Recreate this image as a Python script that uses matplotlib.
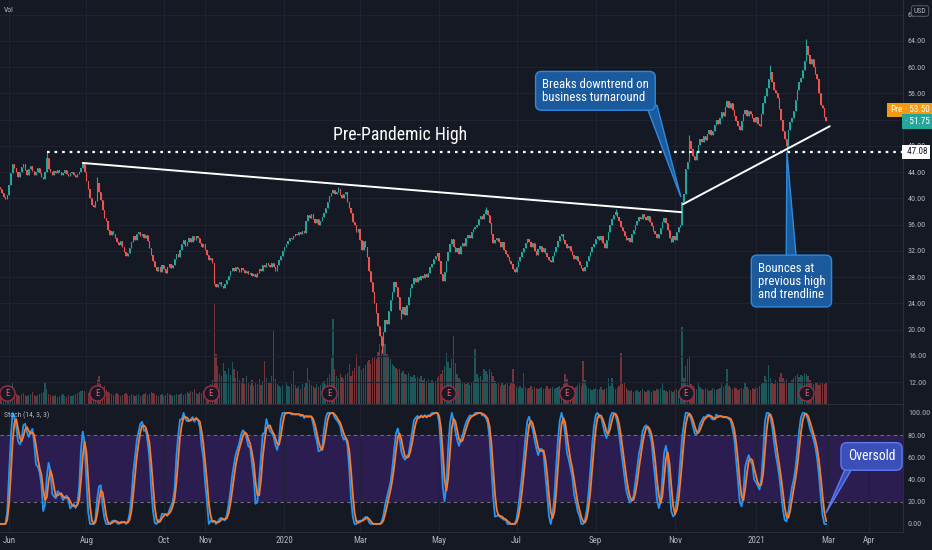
import numpy as np
import pandas as pd
import matplotlib
matplotlib.use("Agg")
import matplotlib.pyplot as plt
from matplotlib import font_manager
from matplotlib.patches import Polygon
from matplotlib.transforms import blended_transform_factory

# daily closes (first bar = 2019-05-27, business days)
closes = [
    41.5, 40.8, 40.2, 39.9, 40.5, 42.0, 43.8, 45.3,
    44.6, 44.0, 43.2, 44.1, 44.8, 45.2, 44.3, 43.6, 44.5, 45.0, 44.2, 43.5, 44.0, 44.7, 43.8, 43.3, 42.9, 44.0,
    46.2,
    44.5, 44.0, 43.6, 44.2, 43.8, 44.4, 44.0, 43.5, 43.9, 44.3, 43.7, 43.4, 43.8, 44.1, 43.6, 43.3, 43.7, 44.0, 44.6,
    45.2,
    44.0, 42.6, 41.5, 40.1, 39.0, 38.7, 39.6, 42.4, 41.0, 39.8,
    38.2, 37.0, 36.5, 35.2, 34.4, 35.0, 34.6,
    34.0, 33.3, 32.9, 33.5, 32.6, 31.8, 31.2, 31.6,
    32.5, 33.4, 34.2, 33.6, 34.5, 34.9, 34.3,
    34.6, 34.0, 34.4, 33.5, 32.4, 31.3, 30.5, 29.6,
    29.0, 29.6, 28.8, 29.9, 29.3, 28.7, 29.5, 30.0,
    29.4, 29.9, 30.8, 31.5, 31.0, 32.2,
    33.0, 33.6, 32.8, 33.3, 34.0, 33.4, 34.2, 33.6, 34.3, 34.0, 33.2,
    32.6, 33.0, 32.2, 31.4, 30.6, 30.9, 30.2,
    27.0, 26.5, 26.9, 27.2, 26.7, 26.4, 26.9,
    27.5, 28.2, 28.9, 29.4, 29.0, 29.6,
    29.2, 28.8, 29.4, 29.1, 28.6, 28.9, 28.4, 28.7, 28.2, 28.5, 28.0,
    28.6, 29.3, 29.0, 29.8, 29.5, 30.2, 29.8, 29.5, 30.1, 29.6, 29.0,
    29.8, 30.6, 31.2, 32.0, 32.6, 33.1, 33.5, 34.0, 33.8, 34.3, 34.6,
    34.4, 34.9, 34.6, 35.1, 34.7,
    36.6, 37.5, 37.0, 37.6,
    36.8, 36.2, 36.9, 36.0, 36.5, 37.2, 37.8, 38.6, 39.5, 40.3,
    40.8, 41.3, 40.6, 41.0, 41.4, 40.5, 40.0, 40.7, 40.9,
    39.5, 38.6, 37.8, 36.4, 36.0,
    34.8, 35.4, 33.6, 32.2, 33.5, 32.6,
    31.0, 29.0, 27.2, 25.8, 24.0, 22.5, 20.5, 19.0, 17.5,
    19.6, 21.5, 20.8, 22.8, 24.5,
    25.8, 27.3, 26.5, 25.0, 23.0,
    22.4, 23.5, 22.2,
    23.8, 25.0, 26.3, 27.0, 27.8, 27.3, 28.0, 27.6,
    28.2, 27.8, 28.4, 28.0, 28.7, 29.5, 30.0, 30.8, 31.2, 31.6,
    30.5, 28.5, 27.4, 28.8, 30.4, 31.8, 33.0, 33.8,
    32.6, 31.8, 32.4, 31.5, 32.8,
    33.2, 32.8, 33.9, 34.4, 34.0, 34.8, 35.3, 35.6,
    36.0, 36.8, 37.3, 36.9, 37.6, 38.3, 37.5, 36.3,
    34.5, 33.2, 33.6,
    34.0, 33.4, 32.6, 33.3, 32.2, 31.5, 31.0, 30.4, 30.0, 29.2, 28.8,
    29.6, 30.4, 31.0, 31.8, 32.5, 33.2, 33.8, 33.4,
    32.6, 33.2, 32.0, 31.4, 32.3, 32.8, 31.8, 32.4, 31.6,
    31.0, 30.6, 30.3, 31.2, 31.8, 32.6, 33.5, 34.2,
    34.5, 33.6, 33.0, 32.4, 32.8, 32.0, 31.4, 30.8, 31.2, 30.5, 29.8, 29.4, 29.0,
    29.6, 30.4, 31.2, 31.8, 32.6, 33.1, 33.8, 34.2, 33.6, 34.3, 33.2, 32.5,
    33.6, 34.8, 35.9, 36.8, 37.5, 38.0,
    37.2, 36.5, 35.7, 35.0, 34.2, 33.6, 33.9, 33.4,
    34.6, 35.2, 36.0, 36.5, 37.2, 36.8, 37.6, 37.1, 36.7, 37.3, 36.4,
    35.8, 35.1, 34.5, 34.0, 34.6, 35.5,
    36.4, 37.0, 36.2, 35.2, 34.0, 33.4,
    34.2, 33.6, 34.8, 35.6, 36.0,
    39.5, 40.6, 44.5, 45.6, 48.8,
    47.5, 46.5, 45.8, 47.0, 48.2, 49.0,
    48.6, 49.5, 48.9, 49.8, 50.4, 49.6, 50.2, 51.2, 52.0, 51.4, 52.3,
    53.2, 52.6, 54.0, 54.8, 53.8, 54.6,
    53.5, 52.6, 51.8, 51.0, 50.5,
    51.8, 52.8, 53.5, 52.6, 53.4, 52.8,
    52.2, 51.6, 52.4, 51.4, 51.0,
    52.8, 54.5, 55.6, 56.8, 58.2, 59.3,
    57.8, 56.6, 56.0, 55.3, 53.6,
    52.0, 50.2, 49.0, 48.0,
    50.5, 51.6, 52.2, 53.4,
    55.0, 56.5, 57.8,
    58.4, 59.6, 61.0, 63.2,
    61.8, 60.5, 61.2, 60.0, 59.0,
    58.2, 56.0, 54.2, 53.8, 52.4, 51.75,
]
first_open = 41.8

# volume per bar (units of 100k shares)
volume = [
    9, 8, 10, 9, 11, 12, 14, 21, 13, 10,
    9, 8, 10, 11, 9, 8, 9, 10, 12, 9,
    8, 9, 10, 11, 12, 22, 15, 10, 9, 8,
    8, 9, 7, 8, 9, 10, 8, 7, 9, 8,
    8, 9, 10, 11, 12, 13, 14, 13, 12, 11,
    12, 14, 13, 15, 24, 28, 20, 16, 18, 14,
    12, 11, 10, 9, 10, 11, 9, 8, 9, 10,
    11, 9, 8, 10, 9, 8, 9, 10, 8, 9,
    10, 11, 9, 10, 12, 11, 10, 9, 8, 9,
    10, 8, 9, 11, 10, 9, 8, 9, 10, 9,
    10, 11, 9, 10, 12, 11, 13, 12, 15, 11,
    10, 12, 11, 13, 14, 16, 18, 20, 24,
    100, 50, 38, 30, 28, 41, 33, 30, 36, 29, 42,
    35, 26, 33, 24, 22, 26, 20, 28, 21, 19,
    24, 18, 22, 20, 25, 19, 23, 43, 26, 21,
    22, 28, 73, 25, 20, 18, 17, 19, 16, 21,
    18, 17, 20, 33, 19, 16, 18, 15, 20, 17,
    22, 36, 24, 19, 18, 16, 20, 17, 19, 21,
    23, 20, 26, 30, 46, 85, 35, 28, 26, 30,
    27, 25, 29, 31, 40, 28, 33, 36, 50, 38,
    38, 34, 36, 39, 42, 44, 40, 46, 48, 45,
    52, 60, 54, 61, 60, 50, 47, 45, 40, 38,
    36, 34, 35, 31, 33, 30, 29, 31, 28, 27,
    29, 26, 27, 25, 28, 24, 26, 23, 25, 22,
    24, 21, 23, 26, 28, 30, 34, 38, 51, 42,
    36, 45, 68, 41, 30, 26, 24, 22, 21, 20,
    22, 19, 21, 23, 55, 30, 26, 28, 24, 35,
    33, 30, 35, 32, 28, 23, 20, 22, 18, 21,
    19, 20, 22, 18, 21, 35, 20, 17, 16, 18,
    16, 31, 17, 15, 16, 18, 15, 17, 16, 15,
    16, 17, 15, 16, 18, 15, 16, 17, 15, 16,
    17, 18, 16, 20, 30, 25, 19, 17, 18, 16,
    17, 19, 22, 18, 43, 24, 18, 16, 15, 14,
    15, 16, 14, 15, 17, 14, 15, 16, 26, 18,
    26, 17, 15, 16, 18, 51, 20, 21, 16, 14,
    13, 14, 12, 13, 14, 12, 13, 15, 13, 12,
    14, 13, 12, 14, 13, 15, 14, 16, 22, 14,
    13, 12, 14, 13, 12, 14, 15, 13, 16,
    77, 26, 38, 45, 47, 20, 18, 16, 15, 22, 17,
    15, 14, 16, 15, 13, 14, 16, 15, 14, 15,
    16, 22, 17, 19, 35, 18, 16, 15, 17, 16,
    14, 15, 16, 15, 21, 17, 15, 14, 16, 15,
    17, 16, 18, 20, 22, 28, 24, 39, 26, 22,
    20, 24, 22, 27, 31, 26, 23, 25, 22, 21,
    24, 26, 28, 30, 27, 29, 28, 31, 30, 28,
    24, 21, 20, 22, 21, 19, 22, 21, 20, 22,
]

# visible wick extremes
wick_high = {26: 47.08, 46: 45.5, 54: 43.2, 188: 41.8, 270: 38.7, 342: 38.4, 383: 49.6, 428: 60.3, 448: 64.3}
wick_low = {212: 16.4, 223: 21.6, 379: 39.0, 437: 47.1}

earnings_idx = [4, 54, 117, 183, 249, 315, 381, 448]

tick_dates = ['2019-06-03', '2019-08-01', '2019-10-01', '2019-11-01', '2020-01-02', '2020-03-02',
              '2020-05-01', '2020-07-01', '2020-09-01', '2020-11-02', '2021-01-04', '2021-03-01', '2021-04-01']
tick_labels = ['Jun', 'Aug', 'Oct', 'Nov', '2020', 'Mar', 'May', 'Jul', 'Sep', 'Nov', '2021', 'Mar', 'Apr']
price_ticks = [12, 16, 20, 24, 28, 32, 36, 40, 44, 48, 52, 56, 60, 64, 68]
stoch_ticks = [0, 20, 40, 60, 80, 100]

prev_high = 47.08
last_close = 51.75
pre_price = 53.50
trend_down = [(46, 45.4), (378.5, 37.9)]
trend_up = [(379.4, 39.1), (461, 51.0)]

# ---------------------------------------------------------------
names = {f.name for f in font_manager.fontManager.ttflist}
font = 'DejaVu Sans'
for cand in ['Roboto Condensed', 'Liberation Sans Narrow', 'Open Sans Condensed', 'Lato']:
    if cand in names:
        font = cand
        break
plt.rcParams['font.family'] = [font, 'DejaVu Sans']

BG = '#151924'
GRID = '#1f2331'
TXT = '#b2b5be'
UP = '#26a69a'
DOWN = '#ef5350'
AX_FS = 5.8
TAG_FS = 6.6

n = min(len(closes), len(volume))
c = np.array(closes[:n])
o = np.concatenate([[first_open], c[:-1]])
hi = np.maximum(o, c)
lo = np.minimum(o, c)
for k, v in wick_high.items():
    if k < n:
        hi[k] = max(hi[k], v)
for k, v in wick_low.items():
    if k < n:
        lo[k] = min(lo[k], v)
x = np.arange(n)
up = c >= o
cols = np.where(up, UP, DOWN)

# stochastic (14, 3, 3)
hh = pd.Series(hi).rolling(14, min_periods=1).max()
ll = pd.Series(lo).rolling(14, min_periods=1).min()
k_raw = 100 * (pd.Series(c) - ll) / (hh - ll).replace(0, np.nan)
k_line = k_raw.rolling(3, min_periods=1).mean()
d_line = k_line.rolling(3, min_periods=1).mean()

xmax = 501.7
dates = pd.bdate_range('2019-05-27', periods=int(xmax) + 5)
tick_pos = dates.get_indexer(pd.to_datetime(tick_dates))

fig = plt.figure(figsize=(9.32, 5.5), dpi=100, facecolor=BG)
W = 903 / 932
ax = fig.add_axes([0, 146 / 550, W, 404 / 550])
sax = fig.add_axes([0, 18 / 550, W, 128 / 550], sharex=ax)
sax.set_facecolor(BG)

# volume overlay
vax = ax.twinx()
vax.bar(x, volume[:n], width=0.75, color=cols, alpha=0.45, linewidth=0)
vax.set_ylim(0, 404)
vax.set_yticks([])
for s in vax.spines.values():
    s.set_visible(False)
ax.set_zorder(vax.get_zorder() + 1)
ax.patch.set_visible(False)

# candles
ax.vlines(x, lo, hi, colors=cols, linewidth=0.8, zorder=3)
ax.bar(x, np.maximum(np.abs(c - o), 0.08), bottom=np.minimum(o, c), width=0.75,
       color=cols, linewidth=0, zorder=3)

ax.set_xlim(0, xmax)
ax.set_ylim(8.65, 70.25)
ax.set_yticks(price_ticks)
ax.set_yticklabels(['{:.2f}'.format(t) for t in price_ticks])
ax.yaxis.tick_right()
ax.tick_params(axis='y', length=0, pad=3.5, labelsize=AX_FS, labelcolor=TXT)
ax.tick_params(axis='x', length=0, labelbottom=False)
ax.set_xticks(tick_pos)
ax.grid(True, color=GRID, linewidth=0.8)
ax.set_axisbelow(True)
for name, s in ax.spines.items():
    s.set_visible(name in ('right', 'bottom'))
    s.set_color('#2a2e39')

# earnings markers
bt = blended_transform_factory(ax.transData, ax.transAxes)
ex = [e for e in earnings_idx if e < n]
ax.scatter(ex, [0.027] * len(ex), s=120, transform=bt, facecolor='#1a1824', edgecolor='#9c3048',
           linewidth=1.0, zorder=5, clip_on=False)
for e in ex:
    ax.text(e, 0.027, 'E', transform=bt, ha='center', va='center', fontsize=6.5, color='#e4576e', zorder=6)

# pre-pandemic high and trendlines
ax.hlines(prev_high, 26, xmax, colors='white', linestyles=(0, (1.2, 2.2)), linewidth=1.6, zorder=4)
ax.plot(*zip(*trend_down), color='white', linewidth=1.4, zorder=4, solid_capstyle='round')
ax.plot(*zip(*trend_up), color='white', linewidth=1.4, zorder=4, solid_capstyle='round')
ax.text(185, 49.6, 'Pre-Pandemic High', color='white', fontsize=12.8, va='center', ha='left', zorder=6)

# callouts
def callout(a, cx, cy, txt, pointer, fc, ec, fs=9.2):
    a.add_patch(Polygon(pointer, closed=True, facecolor=fc, edgecolor=ec, linewidth=1.0, zorder=7))
    a.text(cx, cy, txt, ha='center', va='center', multialignment='left', color='white', fontsize=fs,
           linespacing=1.0, zorder=8,
           bbox=dict(boxstyle='round,pad=0.5,rounding_size=0.45', facecolor=fc, edgecolor=ec, linewidth=1.0))

callout(ax, 330.8, 56.4, 'Breaks downtrend on\nbusiness turnaround',
        [(359, 54.2), (365, 54.2), (378.3, 40.2)], '#1b5a9c', '#2e8ae0')
callout(ax, 439.7, 27.4, 'Bounces at\nprevious high\nand trendline',
        [(436.8, 30.6), (442.5, 30.6), (437.2, 47.06)], '#1b5a9c', '#2e8ae0')

ax.text(4 / 903, 1 - 10 / 404, 'Vol', transform=ax.transAxes, fontsize=5.5, color=TXT, va='center')

# right-side price labels
rt = blended_transform_factory(ax.transAxes, ax.transData)
ax.text(890 / 903, pre_price, 'Pre', transform=rt, fontsize=TAG_FS, color='white', va='center',
        ha='left', zorder=9, clip_on=False,
        bbox=dict(boxstyle='square,pad=0.3', facecolor='#f39a12', edgecolor='none'))
ax.text(1.002, pre_price, '\u00b7 53.50', transform=rt, fontsize=TAG_FS, color='white', va='center',
        ha='left', zorder=9, clip_on=False,
        bbox=dict(boxstyle='square,pad=0.3', facecolor='#f39a12', edgecolor='none'))
ax.text(1.002, last_close, '\u00b7 51.75', transform=rt, fontsize=TAG_FS, color='white', va='center',
        ha='left', zorder=9, clip_on=False,
        bbox=dict(boxstyle='square,pad=0.3', facecolor=UP, edgecolor='none'))
ax.text(1.002, prev_high, ' 47.08', transform=rt, fontsize=TAG_FS, color='#131722', va='center',
        ha='left', zorder=9, clip_on=False,
        bbox=dict(boxstyle='square,pad=0.3', facecolor='white', edgecolor='none'))
fig.text(920 / 932, 1 - 11 / 550, 'USD', fontsize=5.5, color=TXT, ha='center', va='center',
         bbox=dict(boxstyle='round,pad=0.3,rounding_size=0.3', facecolor=BG, edgecolor='#50535e', linewidth=0.8))

# stochastic pane
sax.axhspan(20, 80, facecolor='#2b1d50', edgecolor='none', zorder=0)
sax.axhline(80, color='#6f6a80', linestyle=(0, (3, 3)), linewidth=0.8, zorder=1)
sax.axhline(20, color='#6f6a80', linestyle=(0, (3, 3)), linewidth=0.8, zorder=1)
sax.plot(x, k_line, color='#2196f3', linewidth=1.3, zorder=3)
sax.plot(x, d_line, color='#ff7a2b', linewidth=1.3, zorder=3)
sax.set_ylim(-7.2, 108)
sax.set_yticks(stoch_ticks)
sax.set_yticklabels(['{:.2f}'.format(t) for t in stoch_ticks])
sax.yaxis.tick_right()
sax.tick_params(axis='y', length=0, pad=3.5, labelsize=AX_FS, labelcolor=TXT)
sax.set_xticks(tick_pos)
sax.set_xticklabels(tick_labels)
sax.tick_params(axis='x', length=0, pad=3, labelsize=6.5, labelcolor=TXT)
sax.grid(True, axis='x', color=GRID, linewidth=0.8)
sax.set_axisbelow(True)
for name, s in sax.spines.items():
    s.set_visible(name in ('right', 'bottom'))
    s.set_color('#2a2e39')
sax.text(4 / 903, (532 - 415) / 128, 'Stoch (14, 3, 3)', transform=sax.transAxes, fontsize=5.5,
         color=TXT, va='center')

callout(sax, 484.2, 60.8, 'Oversold', [(470.5, 53.0), (474.5, 53.0), (458.9, 9.9)],
        '#3a4fb8', '#5c7cf0', fs=9.8)

fig.savefig('out.png', dpi=100, facecolor=BG)
